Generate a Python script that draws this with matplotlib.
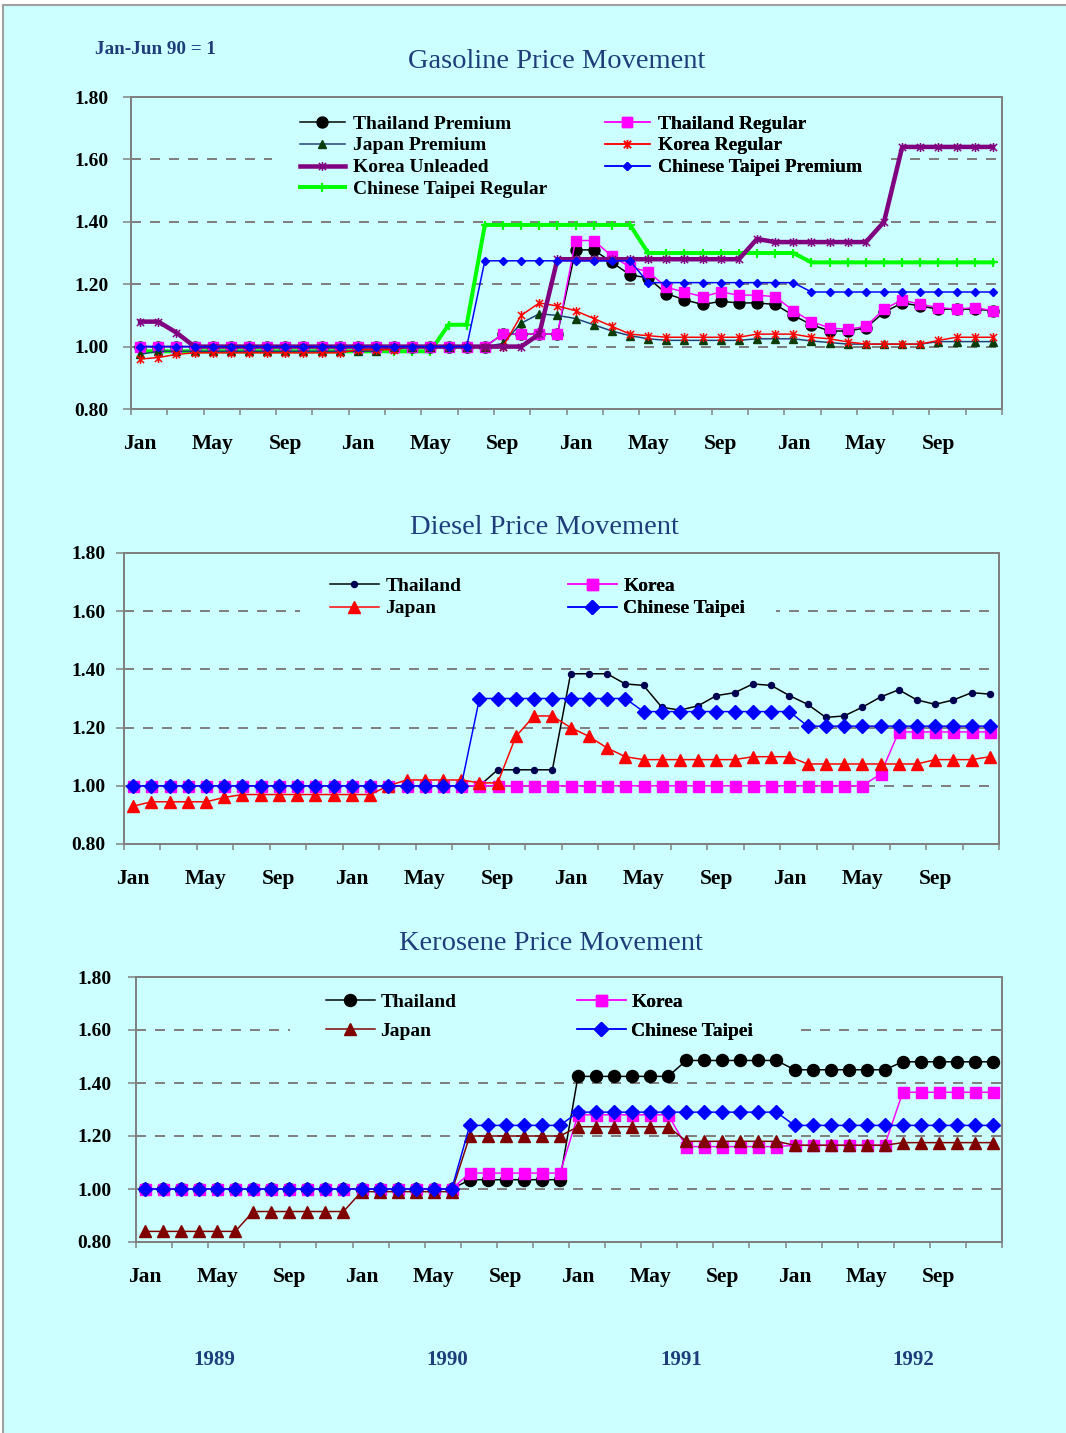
import numpy as np
import matplotlib
matplotlib.use("Agg")
import matplotlib.pyplot as plt
from matplotlib.path import Path
from matplotlib.patches import Rectangle

W, H, DPI = 1066, 1433, 100
BG = "#CCFFFF"
NAVY = "#1D3E7A"
GREY = "#808080"

# ---------------------------------------------------------------- data
months = list(range(48))                      # Jan 1989 .. Dec 1992
month_ticks = [0, 4, 8, 12, 16, 20, 24, 28, 32, 36, 40, 44]
month_labels = ["Jan", "May", "Sep", "Jan", "May", "Sep",
                "Jan", "May", "Sep", "Jan", "May", "Sep"]
year_labels = ["1989", "1990", "1991", "1992"]
y_ticks = [0.80, 1.00, 1.20, 1.40, 1.60, 1.80]

# Gasoline (index, Jan-Jun 1990 = 1)
gas_thai_premium = [
    1.00, 1.00, 1.00, 1.00, 1.00, 1.00, 1.00, 1.00, 1.00, 1.00, 1.00, 1.00,
    1.00, 1.00, 1.00, 1.00, 1.00, 1.00, 1.00, 1.00, 1.04, 1.04, 1.04, 1.04,
    1.31, 1.31, 1.27, 1.23, 1.22, 1.17, 1.15, 1.135, 1.145, 1.14, 1.14, 1.135,
    1.10, 1.07, 1.05, 1.05, 1.06, 1.11, 1.14, 1.13, 1.12, 1.12, 1.12, 1.115]
gas_thai_regular = [
    1.00, 1.00, 1.00, 1.00, 1.00, 1.00, 1.00, 1.00, 1.00, 1.00, 1.00, 1.00,
    1.00, 1.00, 1.00, 1.00, 1.00, 1.00, 1.00, 1.00, 1.04, 1.04, 1.04, 1.04,
    1.34, 1.34, 1.29, 1.255, 1.24, 1.19, 1.175, 1.16, 1.175, 1.165, 1.165, 1.16,
    1.115, 1.08, 1.06, 1.055, 1.065, 1.12, 1.15, 1.135, 1.125, 1.12, 1.125, 1.115]
gas_japan_premium = [
    0.975, 0.985, 0.985, 0.985, 0.985, 0.985, 0.985, 0.985, 0.985, 0.985, 0.985, 0.985,
    0.985, 0.985, 1.00, 1.00, 1.00, 1.00, 1.00, 1.00, 1.01, 1.075, 1.105, 1.10,
    1.09, 1.07, 1.05, 1.035, 1.025, 1.02, 1.02, 1.02, 1.02, 1.02, 1.025, 1.025,
    1.025, 1.018, 1.013, 1.008, 1.008, 1.008, 1.008, 1.008, 1.016, 1.016, 1.016, 1.016]
gas_korea_regular = [
    0.96, 0.965, 0.975, 0.98, 0.98, 0.98, 0.98, 0.98, 0.98, 0.98, 0.98, 0.98,
    0.99, 0.99, 0.99, 1.00, 1.00, 1.00, 1.00, 1.00, 1.00, 1.10, 1.14, 1.13,
    1.115, 1.09, 1.065, 1.04, 1.035, 1.03, 1.03, 1.03, 1.03, 1.03, 1.04, 1.04,
    1.04, 1.03, 1.025, 1.015, 1.008, 1.008, 1.008, 1.008, 1.02, 1.03, 1.03, 1.03]
gas_korea_unleaded = [
    1.08, 1.08, 1.045, 1.00, 1.00, 1.00, 1.00, 1.00, 1.00, 1.00, 1.00, 1.00,
    1.00, 1.00, 1.00, 1.00, 1.00, 1.00, 1.00, 1.00, 1.00, 1.00, 1.04, 1.28,
    1.28, 1.28, 1.28, 1.28, 1.28, 1.28, 1.28, 1.28, 1.28, 1.28, 1.345, 1.335,
    1.335, 1.335, 1.335, 1.335, 1.335, 1.40, 1.64, 1.64, 1.64, 1.64, 1.64, 1.64]
gas_ct_premium = [
    1.00, 1.00, 1.00, 1.00, 1.00, 1.00, 1.00, 1.00, 1.00, 1.00, 1.00, 1.00,
    1.00, 1.00, 1.00, 1.00, 1.00, 1.00, 1.00, 1.275, 1.275, 1.275, 1.275, 1.275,
    1.275, 1.275, 1.275, 1.275, 1.205, 1.205, 1.205, 1.205, 1.205, 1.205, 1.205, 1.205,
    1.205, 1.175, 1.175, 1.175, 1.175, 1.175, 1.175, 1.175, 1.175, 1.175, 1.175, 1.175]
gas_ct_regular = [
    0.985, 0.985, 0.985, 0.985, 0.985, 0.985, 0.985, 0.985, 0.985, 0.985, 0.985, 0.985,
    0.985, 0.985, 0.985, 0.985, 0.985, 1.07, 1.07, 1.39, 1.39, 1.39, 1.39, 1.39,
    1.39, 1.39, 1.39, 1.39, 1.30, 1.30, 1.30, 1.30, 1.30, 1.30, 1.30, 1.30,
    1.30, 1.27, 1.27, 1.27, 1.27, 1.27, 1.27, 1.27, 1.27, 1.27, 1.27, 1.27]

# Diesel
dsl_thailand = [
    1.00, 1.00, 1.00, 1.00, 1.00, 1.00, 1.00, 1.00, 1.00, 1.00, 1.00, 1.00,
    1.00, 1.00, 1.00, 1.00, 1.00, 1.00, 1.00, 1.00, 1.055, 1.055, 1.055, 1.055,
    1.385, 1.385, 1.385, 1.35, 1.345, 1.27, 1.26, 1.275, 1.31, 1.32, 1.35, 1.345,
    1.31, 1.28, 1.235, 1.24, 1.27, 1.305, 1.33, 1.295, 1.28, 1.295, 1.32, 1.315]
dsl_japan = [
    0.93, 0.945, 0.945, 0.945, 0.945, 0.96, 0.97, 0.97, 0.97, 0.97, 0.97, 0.97,
    0.97, 0.97, 1.00, 1.02, 1.02, 1.02, 1.02, 1.01, 1.01, 1.17, 1.24, 1.24,
    1.20, 1.17, 1.13, 1.10, 1.09, 1.09, 1.09, 1.09, 1.09, 1.09, 1.10, 1.10,
    1.10, 1.075, 1.075, 1.075, 1.075, 1.075, 1.075, 1.075, 1.09, 1.09, 1.09, 1.10]
dsl_korea = [
    1.00, 1.00, 1.00, 1.00, 1.00, 1.00, 1.00, 1.00, 1.00, 1.00, 1.00, 1.00,
    1.00, 1.00, 1.00, 1.00, 1.00, 1.00, 1.00, 1.00, 1.00, 1.00, 1.00, 1.00,
    1.00, 1.00, 1.00, 1.00, 1.00, 1.00, 1.00, 1.00, 1.00, 1.00, 1.00, 1.00,
    1.00, 1.00, 1.00, 1.00, 1.00, 1.04, 1.185, 1.185, 1.185, 1.185, 1.185, 1.185]
dsl_taipei = [
    1.00, 1.00, 1.00, 1.00, 1.00, 1.00, 1.00, 1.00, 1.00, 1.00, 1.00, 1.00,
    1.00, 1.00, 1.00, 1.00, 1.00, 1.00, 1.00, 1.30, 1.30, 1.30, 1.30, 1.30,
    1.30, 1.30, 1.30, 1.30, 1.255, 1.255, 1.255, 1.255, 1.255, 1.255, 1.255, 1.255,
    1.255, 1.205, 1.205, 1.205, 1.205, 1.205, 1.205, 1.205, 1.205, 1.205, 1.205, 1.205]

# Kerosene
ker_thailand = [
    1.00, 1.00, 1.00, 1.00, 1.00, 1.00, 1.00, 1.00, 1.00, 1.00, 1.00, 1.00,
    1.00, 1.00, 1.00, 1.00, 1.00, 1.00, 1.035, 1.035, 1.035, 1.035, 1.035, 1.035,
    1.425, 1.425, 1.425, 1.425, 1.425, 1.425, 1.485, 1.485, 1.485, 1.485, 1.485, 1.485,
    1.45, 1.45, 1.45, 1.45, 1.45, 1.45, 1.48, 1.48, 1.48, 1.48, 1.48, 1.48]
ker_korea = [
    1.00, 1.00, 1.00, 1.00, 1.00, 1.00, 1.00, 1.00, 1.00, 1.00, 1.00, 1.00,
    1.00, 1.00, 1.00, 1.00, 1.00, 1.00, 1.06, 1.06, 1.06, 1.06, 1.06, 1.06,
    1.28, 1.28, 1.28, 1.28, 1.28, 1.28, 1.16, 1.16, 1.16, 1.16, 1.16, 1.16,
    1.165, 1.165, 1.165, 1.165, 1.165, 1.165, 1.365, 1.365, 1.365, 1.365, 1.365, 1.365]
ker_japan = [
    0.84, 0.84, 0.84, 0.84, 0.84, 0.84, 0.915, 0.915, 0.915, 0.915, 0.915, 0.915,
    0.99, 0.99, 0.99, 0.99, 0.99, 0.99, 1.20, 1.20, 1.20, 1.20, 1.20, 1.20,
    1.235, 1.235, 1.235, 1.235, 1.235, 1.235, 1.18, 1.18, 1.18, 1.18, 1.18, 1.18,
    1.165, 1.165, 1.165, 1.165, 1.165, 1.165, 1.175, 1.175, 1.175, 1.175, 1.175, 1.175]
ker_taipei = [
    1.00, 1.00, 1.00, 1.00, 1.00, 1.00, 1.00, 1.00, 1.00, 1.00, 1.00, 1.00,
    1.00, 1.00, 1.00, 1.00, 1.00, 1.00, 1.24, 1.24, 1.24, 1.24, 1.24, 1.24,
    1.29, 1.29, 1.29, 1.29, 1.29, 1.29, 1.29, 1.29, 1.29, 1.29, 1.29, 1.29,
    1.24, 1.24, 1.24, 1.24, 1.24, 1.24, 1.24, 1.24, 1.24, 1.24, 1.24, 1.24]

# ---------------------------------------------------------------- style
plt.rcParams["font.family"] = ["Liberation Serif", "DejaVu Serif"]
PX = 72.0 / DPI          # points per pixel

# Excel-style asterisk marker: an "x" crossed by a vertical bar
ASTERISK = Path([(-1, -1), (1, 1), (-1, 1), (1, -1), (0, -1.25), (0, 1.25)],
                [Path.MOVETO, Path.LINETO, Path.MOVETO, Path.LINETO,
                 Path.MOVETO, Path.LINETO])

fig = plt.figure(figsize=(W / DPI, H / DPI), dpi=DPI, facecolor="white")
fig.patches.append(Rectangle((3 / W, -0.01), 1.0, 1 - 5 / H + 0.01,
                             transform=fig.transFigure, facecolor=BG,
                             edgecolor="#a0a0a0", linewidth=1.5, zorder=-10))


def fx(px):
    return px / W


def fy(py):
    return 1 - py / H


def make_axes(left, top, right, bottom, ypad):
    ax = fig.add_axes([fx(left), fy(bottom), fx(right - left), (bottom - top) / H])
    ax.set_facecolor(BG)
    ax.set_xlim(-0.5, 47.5)
    ax.set_ylim(0.8, 1.8)
    ax.set_yticks(y_ticks)
    ax.set_yticklabels([f"{v:.2f}" for v in y_ticks], fontsize=14, fontweight="bold")
    ax.set_xticks(month_ticks)
    ax.set_xticklabels(month_labels, fontsize=15.5, fontweight="bold")
    ax.set_xticks(np.arange(-0.5, 48, 2), minor=True)
    ax.tick_params(axis="x", which="major", length=0, pad=18)
    ax.tick_params(axis="x", which="minor", length=6 * PX, width=1.5 * PX,
                   color=GREY, direction="out")
    ax.tick_params(axis="y", length=8 * PX, width=1.5 * PX, color=GREY,
                   direction="out", pad=ypad)
    for s in ax.spines.values():
        s.set_color(GREY)
        s.set_linewidth(2 * PX)
    for v in y_ticks[1:-1]:
        ax.axhline(v, color=GREY, lw=2 * PX, ls=(0, (5, 4.5)), zorder=0.5)
    return ax


def blank(ax, x0, y0, x1, y1):
    """Cyan box that hides the grid behind the legend."""
    ax.add_patch(Rectangle((fx(x0), fy(y1)), fx(x1 - x0), (y1 - y0) / H,
                           transform=fig.transFigure, facecolor=BG,
                           edgecolor="none", zorder=1))


def legend_column(ax, handles, labels, x, y, spacing, hlen, hpad):
    leg = ax.legend(handles, labels, loc="upper left",
                    bbox_to_anchor=(fx(x), fy(y)), bbox_transform=fig.transFigure,
                    frameon=False, borderpad=0, borderaxespad=0,
                    labelspacing=spacing, handlelength=hlen, handletextpad=hpad,
                    prop={"family": "Liberation Serif", "weight": "bold", "size": 14},
                    numpoints=1)
    ax.add_artist(leg)
    return leg


# ---------------------------------------------------------------- gasoline
ax1 = make_axes(131, 97, 1002, 409, ypad=12 * PX + 2)
l_ctr, = ax1.plot(months, gas_ct_regular, color="#00FF00", lw=4 * PX, marker="+",
                  ms=9 * PX, mew=2.2 * PX, mec="#00FF00", zorder=2)
l_tp, = ax1.plot(months, gas_thai_premium, color="black", lw=1.5 * PX, marker="o",
                 ms=11 * PX, mfc="black", mec="black", zorder=3)
l_tr, = ax1.plot(months, gas_thai_regular, color="#FF00FF", lw=1.5 * PX, marker="s",
                 ms=9.5 * PX, mfc="#FF00FF", mec="#FF00FF", zorder=3.1)
l_jp, = ax1.plot(months, gas_japan_premium, color="#1F3F77", lw=1.5 * PX, marker="^",
                 ms=8.5 * PX, mfc="#0B3D0B", mec="#0B3D0B", zorder=3.2)
l_kr, = ax1.plot(months, gas_korea_regular, color="#FF0000", lw=1.5 * PX, marker=ASTERISK,
                 ms=9 * PX, mfc="none", mec="#FF0000", mew=1.5 * PX, zorder=3.3)
l_ku, = ax1.plot(months, gas_korea_unleaded, color="#800080", lw=4.5 * PX, marker=ASTERISK,
                 ms=9 * PX, mfc="none", mec="#800080", mew=1.5 * PX, zorder=3.4)
l_ctp, = ax1.plot(months, gas_ct_premium, color="#0000FF", lw=1.5 * PX, marker="D",
                  ms=6 * PX, mfc="#0000FF", mec="#0000FF", zorder=3.5)

blank(ax1, 272, 104, 888, 202)
legend_column(ax1, [l_tp, l_jp, l_ku, l_ctr],
              ["Thailand Premium", "Japan Premium", "Korea Unleaded", "Chinese Taipei Regular"],
              300, 115, 0.22, 2.3, 0.45)
legend_column(ax1, [l_tr, l_kr, l_ctp],
              ["Thailand Regular", "Korea Regular", "Chinese Taipei Premium"],
              605, 115, 0.22, 2.3, 0.45)

# ---------------------------------------------------------------- diesel
ax2 = make_axes(124, 553, 999, 844, ypad=8 * PX + 2)
d_th, = ax2.plot(months, dsl_thailand, color="black", lw=1.5 * PX, marker="o",
                 ms=6 * PX, mfc="#000050", mec="#000050", zorder=3)
d_ko, = ax2.plot(months, dsl_korea, color="#FF00FF", lw=1.5 * PX, marker="s",
                 ms=11 * PX, mfc="#FF00FF", mec="#FF00FF", zorder=3.1)
d_jp, = ax2.plot(months, dsl_japan, color="#FF0000", lw=1.5 * PX, marker="^",
                 ms=12 * PX, mfc="#FF0000", mec="#FF0000", zorder=3.2)
d_ct, = ax2.plot(months, dsl_taipei, color="#0000FF", lw=1.5 * PX, marker="D",
                 ms=10 * PX, mfc="#0000FF", mec="#0000FF", zorder=3.3)

blank(ax2, 300, 570, 776, 628)
legend_column(ax2, [d_th, d_jp], ["Thailand", "Japan"], 330, 577, 0.27, 2.5, 0.35)
legend_column(ax2, [d_ko, d_ct], ["Korea", "Chinese Taipei"], 568, 577, 0.27, 2.5, 0.35)

# ---------------------------------------------------------------- kerosene
ax3 = make_axes(136, 977, 1002, 1242, ypad=14 * PX + 2)
k_th, = ax3.plot(months, ker_thailand, color="black", lw=1.5 * PX, marker="o",
                 ms=12 * PX, mfc="black", mec="black", zorder=3)
k_ko, = ax3.plot(months, ker_korea, color="#FF00FF", lw=1.5 * PX, marker="s",
                 ms=11 * PX, mfc="#FF00FF", mec="#FF00FF", zorder=3.1)
k_jp, = ax3.plot(months, ker_japan, color="#800000", lw=1.5 * PX, marker="^",
                 ms=12 * PX, mfc="#800000", mec="#800000", zorder=3.2)
k_ct, = ax3.plot(months, ker_taipei, color="#0000FF", lw=1.5 * PX, marker="D",
                 ms=10 * PX, mfc="#0000FF", mec="#0000FF", zorder=3.3)

blank(ax3, 290, 985, 792, 1048)
legend_column(ax3, [k_th, k_jp], ["Thailand", "Japan"], 326, 993, 0.6, 2.5, 0.3)
legend_column(ax3, [k_ko, k_ct], ["Korea", "Chinese Taipei"], 577, 993, 0.6, 2.5, 0.3)

# ---------------------------------------------------------------- titles and notes
title_kw = dict(fontsize=20.5, color=NAVY, ha="center", va="center")
fig.text(fx(557), fy(62), "Gasoline Price Movement", **title_kw)
fig.text(fx(544), fy(528), "Diesel Price Movement", **title_kw)
fig.text(fx(551), fy(944), "Kerosene Price Movement", **title_kw)
fig.text(fx(95), fy(49), "Jan-Jun 90 = 1", fontsize=13.8, fontweight="bold",
         color=NAVY, ha="left", va="center")
for label, xp in zip(year_labels, [214, 447, 681, 913]):
    fig.text(fx(xp), fy(1360), label, fontsize=15, fontweight="bold",
             color=NAVY, ha="center", va="center")

fig.savefig("out.png", dpi=DPI, facecolor=fig.get_facecolor())
